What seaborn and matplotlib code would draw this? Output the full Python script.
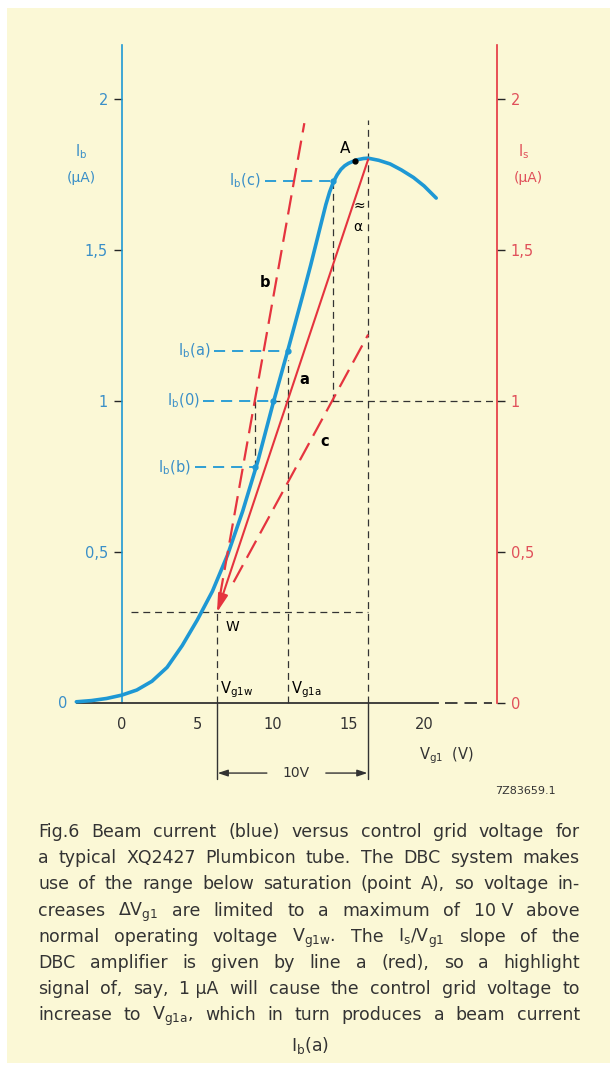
import matplotlib
matplotlib.use("Agg")
import matplotlib.pyplot as plt
import seaborn as sns
import pandas as pd
from matplotlib.patches import Rectangle

# ---------------- data ----------------
vg1 = [-3, -2, -1, 0, 1, 2, 3, 4, 5, 6, 7, 8, 9, 10, 11, 12, 12.5, 13, 13.5,
       13.75, 14, 14.25, 14.5, 14.75, 15, 15.5, 16, 16.3, 17, 17.75, 18.5,
       19.3, 20, 20.8]
ib = [0.004, 0.008, 0.015, 0.026, 0.043, 0.072, 0.118, 0.19, 0.275, 0.37,
      0.49, 0.635, 0.80, 0.99, 1.17, 1.355, 1.45, 1.55, 1.65, 1.692, 1.725,
      1.749, 1.767, 1.779, 1.787, 1.798, 1.803, 1.804, 1.797, 1.785, 1.765,
      1.74, 1.712, 1.672]

# DBC slope lines (Is vs Vg1)
line_a_v = [16.3, 6.3]
line_a_i = [1.80, 0.30]
line_b_v = [6.48, 12.08]
line_b_i = [0.35, 1.92]
line_c_v = [7.4, 16.3]
line_c_i = [0.40, 1.22]

# operating points
vg1_w, ib_w = 6.3, 0.30
vg1_a, ib_a = 11.0, 1.167
vg1_b, ib_b = 8.8, 0.78
vg1_c, ib_c = 14.0, 1.73
vg1_0, ib_0 = 10.0, 1.0
vg1_sat, ib_sat = 16.3, 1.80
vg1_right_axis = 24.8

x_ticks = [0, 5, 10, 15, 20]
x_ticklabels = ["0", "5", "10", "15", "20"]
y_ticks = [0, 0.5, 1, 1.5, 2]
y_ticklabels = ["0", "0,5", "1", "1,5", "2"]

caption_lines = [
    ["Fig.6", "Beam", "current", "(blue)", "versus", "control", "grid", "voltage", "for"],
    ["a", "typical", "XQ2427", "Plumbicon", "tube.", "The", "DBC", "system", "makes"],
    ["use", "of", "the", "range", "below", "saturation", "(point", "A),", "so", "voltage", "in-"],
    ["creases", r"ΔV$_{\rm g1}$", "are", "limited", "to", "a", "maximum", "of", "10 V", "above"],
    ["normal", "operating", "voltage", r"V$_{\rm g1w}$.", "The", r"I$_{\rm s}$/V$_{\rm g1}$", "slope", "of", "the"],
    ["DBC", "amplifier", "is", "given", "by", "line", "a", "(red),", "so", "a", "highlight"],
    ["signal", "of,", "say,", "1 µA", "will", "cause", "the", "control", "grid", "voltage", "to"],
    ["increase", "to", r"V$_{\rm g1a}$,", "which", "in", "turn", "produces", "a", "beam", "current"],
]
caption_last = r"I$_{\rm b}$(a)"

# ---------------- styling ----------------
sns.set_style("white")
plt.rcParams["font.family"] = ["DejaVu Sans"]
plt.rcParams["mathtext.fontset"] = "dejavusans"
plt.rcParams["lines.scale_dashes"] = False

CREAM = "#fbf8d6"
BLUE = "#1e98d4"
BLUE_T = "#3a8fc8"
RED = "#e5343f"
RED_T = "#e0505a"
DARK = "#333333"

W, H = 616, 1070
fig = plt.figure(figsize=(W / 100, H / 100), dpi=100, facecolor="white")
fig.patches.append(Rectangle((7 / W, 1 - 1063 / H), 603 / W, 1055 / H,
                             transform=fig.transFigure, facecolor=CREAM,
                             edgecolor="none", zorder=-10))

ax = fig.add_axes([0, 270 / H, 1, 800 / H])
ax.set_facecolor("none")
PXV, X0 = 15.12, 121.7
PXI, Y0 = 302.0, 703.0
ax.set_xlim(-X0 / PXV, (W - X0) / PXV)
ax.set_ylim((Y0 - 800) / PXI, Y0 / PXI)

# spines
ax.spines["top"].set_visible(False)
ax.spines["left"].set_position(("data", 0))
ax.spines["left"].set_bounds(0, 2.18)
ax.spines["left"].set_color(BLUE)
ax.spines["left"].set_linewidth(1.2)
ax.spines["right"].set_position(("data", vg1_right_axis))
ax.spines["right"].set_bounds(0, 2.18)
ax.spines["right"].set_color(RED)
ax.spines["right"].set_linewidth(1.2)
ax.spines["bottom"].set_position(("data", 0))
ax.spines["bottom"].set_bounds(-2.95, 20.9)
ax.spines["bottom"].set_color(DARK)
ax.spines["bottom"].set_linewidth(1.3)

ax.set_xticks(x_ticks, x_ticklabels)
ax.tick_params(axis="x", direction="out", length=5, width=1, colors=DARK,
               labelsize=10.5, pad=5)
ax.set_yticks(y_ticks, y_ticklabels)
ax.tick_params(axis="y", left=True, right=True, labelleft=True, labelright=True,
               direction="out", length=6, width=1, labelsize=10.5, pad=4)
for i, t in enumerate(ax.yaxis.get_major_ticks()):
    t.tick1line.set_color(BLUE)
    t.tick2line.set_color(RED)
    t.label1.set_color(BLUE_T)
    t.label2.set_color(RED_T)
    if i == 0:
        t.label1.set_visible(False)
        t.tick1line.set_visible(False)
ax.text(-3.9, 0, "0", color=BLUE_T, fontsize=10.5, ha="center", va="center")

# x axis dashed continuation to right axis
ax.plot([21.4, 24.5], [0, 0], color=DARK, lw=1.3, dashes=(9, 5))

# ---------------- beam current curve ----------------
df = pd.DataFrame({"Vg1": vg1, "Ib": ib})
sns.lineplot(data=df, x="Vg1", y="Ib", ax=ax, color=BLUE, linewidth=2.6,
             zorder=5, solid_capstyle="round", solid_joinstyle="round")
ax.set_xlabel("")
ax.set_ylabel("")

# ---------------- red slope lines ----------------
ax.annotate("", xy=(line_a_v[1], line_a_i[1]), xytext=(line_a_v[0], line_a_i[0]),
            arrowprops=dict(arrowstyle="-|>,head_length=1.1,head_width=0.3",
                            color=RED, lw=1.5, shrinkA=0, shrinkB=0), zorder=6)
ax.plot(line_b_v, line_b_i, color=RED, lw=1.6, dashes=(14, 6), zorder=6)
ax.plot(line_c_v, line_c_i, color=RED, lw=1.6, dashes=(14, 6), zorder=6)

# ---------------- black dashed guides ----------------
gkw = dict(color=DARK, lw=0.9, dashes=(5, 3.5), zorder=3)
ax.plot([vg1_w, vg1_w], [0, ib_w], **gkw)
ax.plot([vg1_a, vg1_a], [0, ib_a - 0.03], **gkw)
ax.plot([vg1_b, vg1_b], [ib_b, ib_0], **gkw)
ax.plot([vg1_c, vg1_c], [ib_0, ib_c], **gkw)
ax.plot([vg1_sat, vg1_sat], [0, 1.93], **gkw)
ax.plot([0.6, vg1_sat], [ib_w, ib_w], **gkw)
ax.plot([vg1_0, vg1_right_axis], [ib_0, ib_0], **gkw)

# solid dimension lines and 10 V arrow
ax.plot([vg1_w, vg1_w], [0, -0.25], color=DARK, lw=1)
ax.plot([vg1_sat, vg1_sat], [0, -0.25], color=DARK, lw=1)
akw = dict(arrowstyle="-|>,head_length=0.6,head_width=0.2", color=DARK, lw=1,
           shrinkA=0, shrinkB=0)
ax.annotate("", xy=(vg1_w + 0.05, -0.232), xytext=(9.6, -0.232), arrowprops=akw)
ax.annotate("", xy=(vg1_sat - 0.05, -0.232), xytext=(13.5, -0.232), arrowprops=akw)
ax.text(11.55, -0.232, "10V", fontsize=10, color=DARK, ha="center", va="center")

# ---------------- blue leaders ----------------
lkw = dict(color=BLUE, lw=1.3, dashes=(8, 5), zorder=4)
leaders = [(9.45, vg1_c, ib_c, r"I$_{\rm b}$(c)"),
           (6.1, vg1_a, ib_a, r"I$_{\rm b}$(a)"),
           (5.4, vg1_0, ib_0, r"I$_{\rm b}$(0)"),
           (4.85, vg1_b, ib_b, r"I$_{\rm b}$(b)")]
for xs, xe, yv, lab in leaders:
    ax.plot([xs, xe], [yv, yv], **lkw)
    ax.plot([xe], [yv], marker="o", ms=3.5, color=BLUE, zorder=7)
    ax.text(xs - 0.25, yv, lab, color=BLUE_T, fontsize=10.5, ha="right", va="center")

# ---------------- annotations ----------------
ax.plot([15.4], [1.795], marker="o", ms=3.5, color="black", zorder=8)
ax.text(14.8, 1.835, "A", fontsize=11, color="black", ha="center", va="center")
ax.text(15.7, 1.645, "≈", fontsize=10, color="black", ha="center", va="center")
ax.text(15.6, 1.575, "α", fontsize=10, color="black", ha="center", va="center")
ax.text(12.1, 1.07, "a", fontsize=10.5, fontweight="bold", color="black", ha="center", va="center")
ax.text(9.5, 1.394, "b", fontsize=10.5, fontweight="bold", color="black", ha="center", va="center")
ax.text(13.4, 0.865, "c", fontsize=10.5, fontweight="bold", color="black", ha="center", va="center")
ax.text(7.33, 0.252, "W", fontsize=10, color="black", ha="center", va="center")
ax.text(6.5, 0.045, r"V$_{\rm g1w}$", fontsize=10.5, color="black", ha="left", va="center")
ax.text(11.2, 0.045, r"V$_{\rm g1a}$", fontsize=10.5, color="black", ha="left", va="center")

ax.text(-2.65, 1.825, r"I$_{\rm b}$", fontsize=10.5, color=BLUE_T, ha="center", va="center")
ax.text(-2.65, 1.737, "(µA)", fontsize=10, color=BLUE_T, ha="center", va="center")
ax.text(26.6, 1.825, r"I$_{\rm s}$", fontsize=10.5, color=RED_T, ha="center", va="center")
ax.text(26.9, 1.737, "(µA)", fontsize=10, color=RED_T, ha="center", va="center")
ax.text(21.5, -0.174, r"V$_{\rm g1}$  (V)", fontsize=10.5, color=DARK, ha="center", va="center")
ax.text(28.68, -0.291, "7Z83659.1", fontsize=8, color=DARK, ha="right", va="center")

# ---------------- caption (justified) ----------------
renderer = fig.canvas.get_renderer()
x_left, x_right = 38, 580
base0, step = 837, 26.2
for k, words in enumerate(caption_lines):
    yb = base0 + k * step
    texts = [fig.text(0, 1 - yb / H, w, fontsize=12.5, color=DARK,
                      ha="left", va="baseline") for w in words]
    widths = [t.get_window_extent(renderer=renderer).width for t in texts]
    gap = (x_right - x_left - sum(widths)) / (len(words) - 1)
    x = x_left
    for t, wd in zip(texts, widths):
        t.set_x(x / W)
        x += wd + gap
fig.text(310 / W, 1 - (base0 + 8 * step + 4) / H, caption_last, fontsize=12.5,
         color=DARK, ha="center", va="baseline")

fig.savefig("out.png", dpi=100, facecolor="white")
